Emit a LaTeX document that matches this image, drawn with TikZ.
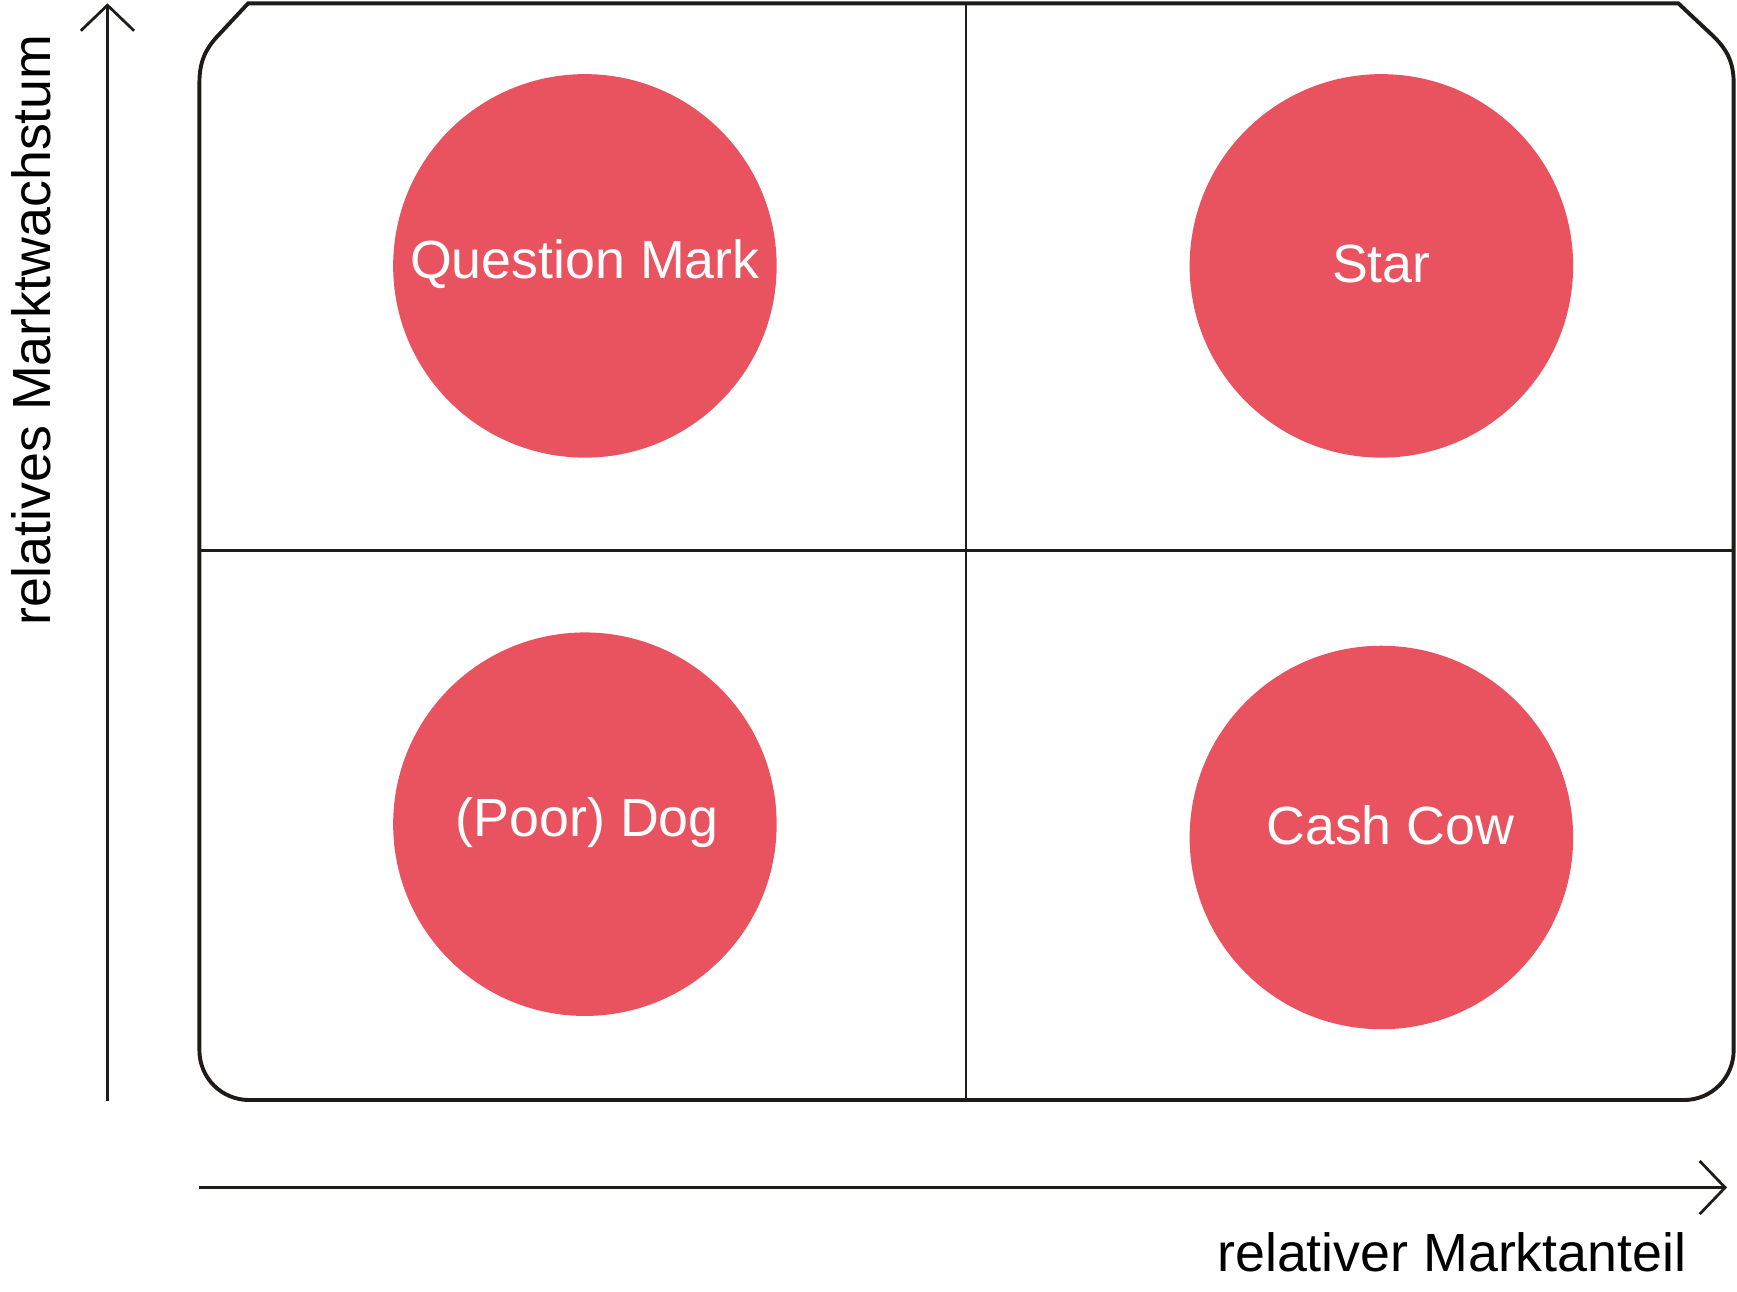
\documentclass[tikz,border=0pt]{standalone}
\usepackage{fontspec}
\setmainfont{Liberation Sans}
\usetikzlibrary{arrows.meta}
\definecolor{bcgrot}{RGB}{233,83,95}
\definecolor{linie}{RGB}{30,27,24}
\tikzset{
  feld/.style={circle, fill=bcgrot, minimum size=3.46cm, inner sep=0pt},
  etikett/.style={text=white, inner sep=0pt, font=\fontsize{13.8}{16}\selectfont},
  achsentext/.style={inner sep=0pt, font=\fontsize{13.8}{16}\selectfont},
  achse/.style={draw=linie, line width=0.7pt, -{Straight Barb[length=2.3mm, width=4.8mm, line width=0.7pt]}},
  rahmen/.style={draw=linie, line width=1pt},
  teiler/.style={draw=linie, line width=0.65pt},
}
\begin{document}
\begin{tikzpicture}[x=0.01cm, y=-0.01cm]
\useasboundingbox (0,0) rectangle (1568,1166);

% Portfolio-Felder
\node[feld] (qm) at (528,240) {};
\node[feld] (star) at (1247,240) {};
\node[feld] (dog) at (528,744) {};
\node[feld] (cow) at (1247,756) {};

\node[etikett] (qmtext) at ([yshift=0.5pt]qm) {Question Mark};
\node[etikett] (startext) at ([yshift=0.6pt]star) {Star};
\node[etikett] (dogtext) at ([xshift=0.6pt, yshift=0.4pt]dog) {(Poor) Dog};
\node[etikett] (cowtext) at ([xshift=2.3pt, yshift=3.1pt]cow) {Cash Cow};

% Rahmen
\path[rahmen] (224,3) -- (1515,3) -- (1547,33)
  .. controls (1558,44) and (1565,55) .. (1565,75) -- (1565,948)
  .. controls (1565,973) and (1545,993) .. (1520,993) -- (225,993)
  .. controls (200,993) and (180,973) .. (180,948) -- (180,75)
  .. controls (180,55) and (186,44) .. (196,33) -- cycle;

% Quadranten
\coordinate (toben) at (872,3);
\coordinate (tunten) at (872,993);
\coordinate (tlinks) at (180,497);
\coordinate (trechts) at (1565,497);
\path[teiler] (toben) -- (tunten);
\path[teiler] (tlinks) -- (trechts);

% Achsen
\coordinate (yfuss) at (97,994);
\coordinate (yspitze) at (97,3);
\coordinate (xfuss) at (180,1072);
\coordinate (xspitze) at (1559,1072);
\path[achse] (yfuss) -- (yspitze);
\path[achse] (xfuss) -- (xspitze);

\node[achsentext, rotate=90] (ylabel) at (28,298) {relatives Marktwachstum};
\node[achsentext, anchor=base east] (xlabel) at (1523,1148) {relativer Marktanteil};
\end{tikzpicture}
\end{document}
